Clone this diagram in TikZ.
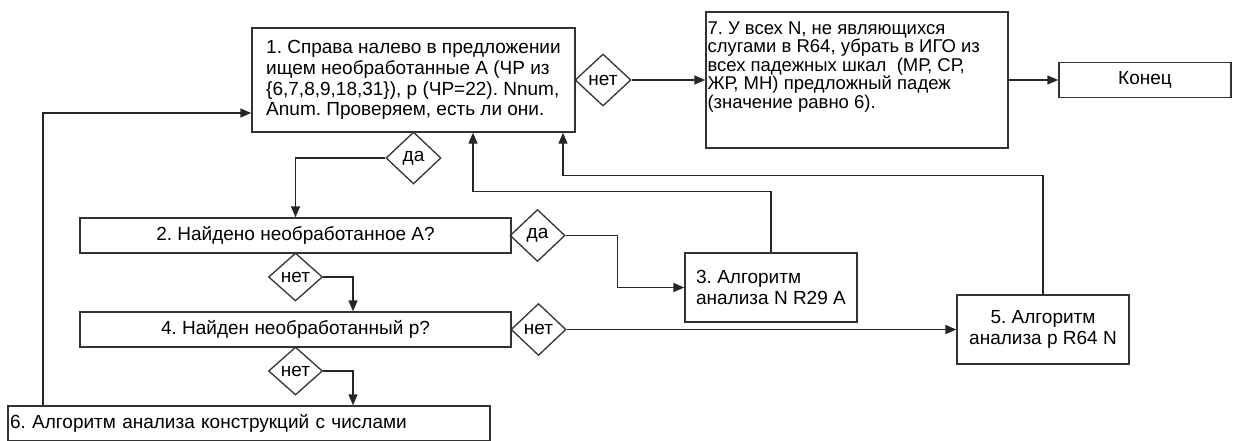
\documentclass[tikz,border=0pt]{standalone}
\usepackage{fontspec}
\setmainfont{Liberation Sans}
\usetikzlibrary{shapes.geometric,arrows.meta}
\newcommand{\txtsize}{\fontsize{19}{20.7}\selectfont}
\frenchspacing
\tikzset{
  box/.style={draw=black!80, line width=1.4pt, rectangle, inner sep=0pt, align=center},
  cond/.style={draw=black!80, line width=1.3pt, diamond, inner sep=0pt,
    minimum width=55pt, minimum height=52pt},
  arr/.style={draw=black!85, line width=1.4pt, -{Triangle[length=11pt,width=9pt]}}
}

\begin{document}
\begin{tikzpicture}[x=1pt,y=-1pt,font=\txtsize]
		\useasboundingbox (0,0) rectangle (1233,441);
		% boxes
		\node[box, align=left, minimum width=323pt, minimum height=104pt] (box1) at (413.5,80)
			{1. Справа налево в предложении\\ищем необработанные А (ЧР из\\\{6,7,8,9,18,31\}), р (ЧР=22). Nnum,\\Anum. Проверяем, есть ли они.};
		\node[box, minimum width=302pt, minimum height=136pt] (box7) at (857,80) {};
		\node[anchor=north west, align=left, inner sep=0pt, font=\fontsize{18.5}{18.5}\selectfont] (box7txt)
			at ([xshift=2pt,yshift=-10pt]box7.north west)
			{7. У всех N, не являющихся\\слугами в R64, убрать в ИГО из\\всех падежных шкал \ (МР, СР,\\ЖР, МН) предложный падеж\\(значение равно 6).};
		\node[box, minimum width=172pt, minimum height=35pt] (end) at (1145,80) {Конец};
		\node[box, minimum width=431pt, minimum height=35pt] (box2) at (295.5,235.5) {2. Найдено необработанное А?};
		\node[box, align=left, minimum width=172pt, minimum height=69pt] (box3) at (771,287.5) {3. Алгоритм\\анализа N R29 A};
		\node[box, minimum width=431pt, minimum height=35pt] (box4) at (295.5,329.5) {4. Найден необработанный р?};
		\node[box, minimum width=172pt, minimum height=69pt] (box5) at (1043,329.5) {5. Алгоритм\\анализа р R64 N};
		\node[box, align=left, text width=478pt, inner xsep=2pt, minimum height=35pt] (box6) at (249,423.5)
			{6. Алгоритм анализа конструкций с числами};
		%
		% conditions
		\node[cond, minimum width=56pt] (d1no) at (603,80) {нет};
		\node[cond] (d1yes) at (413.5,158) {да};
		\node[cond] (d2yes) at (537.5,235.5) {да};
		\node[cond, minimum width=54pt, minimum height=48pt] (d2no) at (295.5,277) {нет};
		\node[cond] (d4no) at (538.5,329.5) {нет};
		\node[cond, minimum width=54pt, minimum height=48pt] (d4down) at (295.5,371) {нет};
		%
		% arrows
		\draw[arr] (d1no.east) -- (box7.west);
		\draw[arr] (box7.east) -- (end.west);
		\draw[arr] (d1yes.west) -| (box2.north);
		\draw[arr] (d2yes.east) -- ++(52,0) |- (box3.west);
		\draw[arr] (box3.north) -- ++(0,-61) -| ([xshift=59.5pt]box1.south);
		\draw[arr] (box5.north) -- ++(0,-119) -| ([xshift=149.5pt]box1.south);
		\draw[arr] (d2no.east) -| ([xshift=57.5pt]box4.north);
		\draw[arr] (d4no.east) -- (box5.west);
		\draw[arr] (d4down.east) -| ([xshift=104pt]box6.north);
		\draw[arr] ([xshift=-206pt]box6.north) |- ([yshift=-33pt]box1.west);
	\end{tikzpicture}
\end{document}
